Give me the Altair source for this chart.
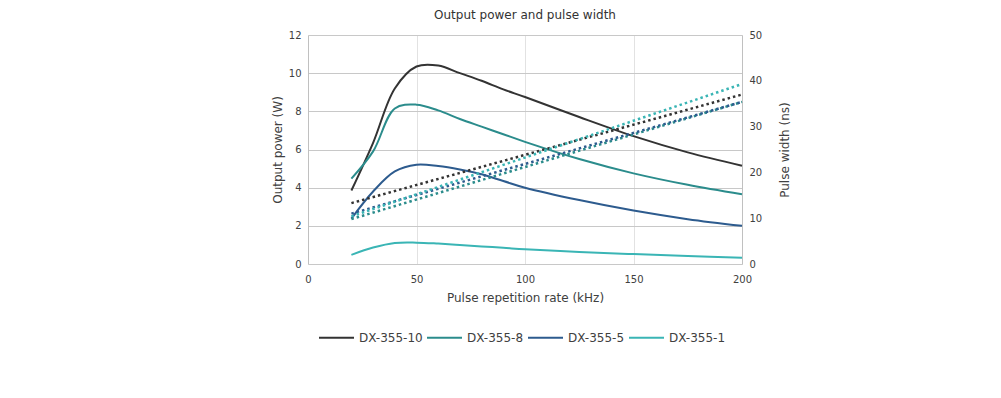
import altair as alt
import pandas as pd

# ---- data ----
models = ["DX-355-10", "DX-355-8", "DX-355-5", "DX-355-1"]
colors = ["#333333", "#2b8c8c", "#2d5b8e", "#3ab5b5"]

freq = [20, 30, 40, 50, 60, 70, 80, 90, 100, 125, 150, 175, 200]
power_10 = [3.85, 6.35, 9.2, 10.35, 10.4, 10.0, 9.6, 9.15, 8.75, 7.7, 6.7, 5.85, 5.15]
power_8 = [4.47, 5.9, 8.15, 8.35, 8.05, 7.6, 7.2, 6.8, 6.4, 5.5, 4.75, 4.15, 3.65]
power_5 = [2.38, 3.8, 4.85, 5.2, 5.13, 4.95, 4.7, 4.35, 4.0, 3.35, 2.8, 2.35, 2.0]
power_1 = [0.48, 0.86, 1.1, 1.12, 1.07, 1.0, 0.92, 0.85, 0.77, 0.63, 0.52, 0.42, 0.33]

pw_freq = [20, 200]
pw_10 = [13.3, 37.0]
pw_8 = [9.8, 35.4]
pw_5 = [11.0, 35.4]
pw_1 = [10.4, 39.3]

# ---- tables ----
power_rows = []
for m, vals in zip(models, [power_10, power_8, power_5, power_1]):
    for f, v in zip(freq, vals):
        power_rows.append({"model": m, "freq": f, "power": v})
power_df = pd.DataFrame(power_rows)

pw_rows = []
for m, vals in zip(models, [pw_10, pw_8, pw_5, pw_1]):
    for f, v in zip(pw_freq, vals):
        pw_rows.append({"model": m, "freq": f, "pw": v})
pw_df = pd.DataFrame(pw_rows)

FONT = "DejaVu Sans"
TXT = "#404040"

x_enc = alt.X(
    "freq:Q",
    scale=alt.Scale(domain=[0, 200], nice=False),
    axis=alt.Axis(
        values=[0, 50, 100, 150, 200],
        title="Pulse repetition rate (kHz)",
        grid=True, gridColor="#e2e2e2", domain=False, ticks=False,
        labelPadding=10, titlePadding=8, labelFlush=False,
        labelFontSize=10, titleFontSize=12, labelFont=FONT, titleFont=FONT,
        labelColor=TXT, titleColor=TXT, titleFontWeight="normal",
    ),
)

color_scale = alt.Scale(domain=models, range=colors)

power = alt.Chart(power_df).mark_line(interpolate="catmull-rom", strokeWidth=2).encode(
    x=x_enc,
    y=alt.Y(
        "power:Q",
        scale=alt.Scale(domain=[0, 12], nice=False),
        axis=alt.Axis(
            values=[0, 2, 4, 6, 8, 10, 12], title="Output power (W)",
            grid=True, gridColor="#c8c8c8", domain=True, domainColor="#c0c0c0",
            ticks=False, labelPadding=7, titlePadding=4,
            labelFontSize=10, titleFontSize=12, labelFont=FONT, titleFont=FONT,
            labelColor=TXT, titleColor=TXT, titleFontWeight="normal",
        ),
    ),
    color=alt.Color(
        "model:N", scale=color_scale, sort=models,
        legend=alt.Legend(
            title=None, orient="none", direction="horizontal", columns=4,
            legendX=10, legendY=284,
            symbolType="stroke", symbolSize=1225, symbolStrokeWidth=2,
            labelFontSize=12, labelFont=FONT, labelColor=TXT,
            labelOffset=4, columnPadding=0, padding=0,
        ),
    ),
)

pulse = alt.Chart(pw_df).mark_line(strokeDash=[2.5, 3], strokeWidth=2.5).encode(
    x=x_enc,
    y=alt.Y(
        "pw:Q",
        scale=alt.Scale(domain=[0, 50], nice=False),
        axis=alt.Axis(
            orient="right", values=[0, 10, 20, 30, 40, 50], title="Pulse width (ns)",
            titleAngle=270,
            grid=False, domain=True, domainColor="#c0c0c0", ticks=False,
            labelPadding=7, titlePadding=30,
            labelFontSize=10, titleFontSize=12, labelFont=FONT, titleFont=FONT,
            labelColor=TXT, titleColor=TXT, titleFontWeight="normal",
        ),
    ),
    color=alt.Color("model:N", scale=color_scale, sort=models, legend=None),
)

chart = (
    alt.layer(power, pulse)
    .resolve_scale(y="independent")
    .properties(
        width=434, height=229,
        title=alt.TitleParams(
            "Output power and pulse width", fontSize=12, font=FONT,
            fontWeight="normal", color="#333333", anchor="middle", offset=8,
        ),
        autosize=alt.AutoSizeParams(type="none"),
        padding={"left": 300, "top": 27, "right": 250, "bottom": 100},
    )
    .configure_view(stroke=None)
)

chart.save("out.html", embed_options={"renderer": "svg", "actions": False})
